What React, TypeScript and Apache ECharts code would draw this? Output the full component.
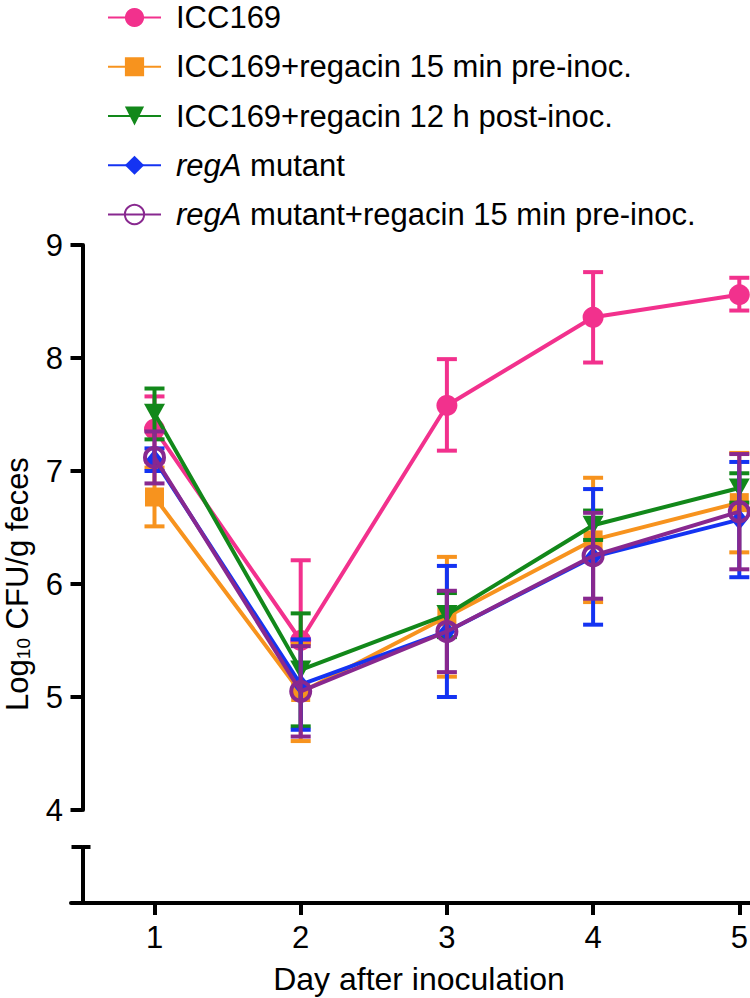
import React, { useEffect, useRef } from "react";
import * as echarts from "echarts";

// ---------- data ----------
const days = [1, 2, 3, 4, 5];
const yTicks = [4, 5, 6, 7, 8, 9];

const seriesNames = [
  "ICC169",
  "ICC169+regacin 15 min pre-inoc.",
  "ICC169+regacin 12 h post-inoc.",
  "regA mutant",
  "regA mutant+regacin 15 min pre-inoc.",
];

const icc169Mean = [7.37, 5.5, 7.58, 8.36, 8.56];
const icc169ErrUp = [0.29, 0.71, 0.41, 0.4, 0.15];
const icc169ErrDown = [0.29, 0.0, 0.4, 0.4, 0.14];

const preInocMean = [6.77, 5.04, 5.71, 6.39, 6.72];
const preInocErrUp = [0.26, 0.43, 0.53, 0.55, 0.44];
const preInocErrDown = [0.26, 0.43, 0.53, 0.55, 0.44];

const postInocMean = [7.51, 5.24, 5.73, 6.52, 6.85];
const postInocErrUp = [0.22, 0.5, 0.19, 0.13, 0.13];
const postInocErrDown = [0.23, 0.5, 0.2, 0.13, 0.13];

const regAMean = [7.1, 5.11, 5.58, 6.24, 6.57];
const regAErrUp = [0.1, 0.4, 0.58, 0.6, 0.51];
const regAErrDown = [0.1, 0.4, 0.58, 0.6, 0.51];

const regAPreMean = [7.12, 5.05, 5.58, 6.25, 6.64];
const regAPreErrUp = [0.23, 0.4, 0.36, 0.38, 0.51];
const regAPreErrDown = [0.23, 0.4, 0.36, 0.38, 0.51];

// ---------- styling ----------
const FONT = "'Liberation Sans', Arial, Helvetica, sans-serif";
const COLORS = ["#F2318D", "#F7931E", "#12881A", "#1433F2", "#88288F"];
const LINE_W = 4;
const AXIS_W = 4;
const CAP_HALF = 10;

const PLOT_LEFT = 82.5;
const AXIS_STUB_LEFT = 71;
const DAY1_X = 154.5;
const DAY_STEP = 146.2;
const CANVAS_W = 750;
const CANVAS_H = 998;
const X_MIN_TOP = 1 - (DAY1_X - PLOT_LEFT) / DAY_STEP;
const X_MIN_BOTTOM = 1 - (DAY1_X - AXIS_STUB_LEFT) / DAY_STEP;
const X_MAX = 1 + (CANVAS_W - DAY1_X) / DAY_STEP;

const groups = [
  { mean: icc169Mean, up: icc169ErrUp, down: icc169ErrDown, symbol: "circle", size: 21 as any, hollow: false },
  { mean: preInocMean, up: preInocErrUp, down: preInocErrDown, symbol: "rect", size: 19 as any, hollow: false },
  { mean: postInocMean, up: postInocErrUp, down: postInocErrDown, symbol: "path://M0,0L20,0L10,18Z", size: [21, 19] as any, hollow: false },
  { mean: regAMean, up: regAErrUp, down: regAErrDown, symbol: "diamond", size: [17, 21] as any, hollow: false },
  { mean: regAPreMean, up: regAPreErrUp, down: regAPreErrDown, symbol: "circle", size: 19 as any, hollow: true },
];

function buildSeries() {
  const out: any[] = [];
  groups.forEach((g, i) => {
    const color = COLORS[i];
    const z = 2 + i;
    out.push({
      type: "custom",
      name: "err-" + i,
      xAxisIndex: 0,
      yAxisIndex: 0,
      z,
      silent: true,
      encode: { x: 0, y: [1, 2] },
      data: days.map((d, k) => [d, g.mean[k] - g.down[k], g.mean[k] + g.up[k], g.mean[k]]),
      renderItem: (params: any, api: any) => {
        const x = api.value(0);
        const lo = api.coord([x, api.value(1)]);
        const hi = api.coord([x, api.value(2)]);
        const style = { stroke: color, lineWidth: LINE_W, fill: null };
        const children: any[] = [
          { type: "line", shape: { x1: lo[0], y1: lo[1], x2: hi[0], y2: hi[1] }, style },
          { type: "line", shape: { x1: hi[0] - CAP_HALF, y1: hi[1], x2: hi[0] + CAP_HALF, y2: hi[1] }, style },
        ];
        if (api.value(1) < api.value(3)) {
          children.push({ type: "line", shape: { x1: lo[0] - CAP_HALF, y1: lo[1], x2: lo[0] + CAP_HALF, y2: lo[1] }, style });
        }
        return { type: "group", children };
      },
    });
    out.push({
      type: "line",
      name: seriesNames[i],
      xAxisIndex: 0,
      yAxisIndex: 0,
      z,
      data: days.map((d, k) => [d, g.mean[k]]),
      symbol: g.symbol,
      symbolSize: g.size,
      showAllSymbol: true,
      lineStyle: { color, width: LINE_W },
      itemStyle: g.hollow
        ? { color: "rgba(255,255,255,0)", borderColor: color, borderWidth: LINE_W }
        : { color, borderWidth: 0 },
      emphasis: { disabled: true },
    });
  });
  return out;
}

const axisLineStyle = { color: "#000", width: AXIS_W };

export default function App() {
  const ref = useRef<HTMLDivElement>(null);
  useEffect(() => {
    if (!ref.current) return;
    const chart = echarts.init(ref.current, null, { renderer: "svg" });
    const option: any = {
      animation: false,
      backgroundColor: "#ffffff",
      textStyle: { fontFamily: FONT },
      legend: {
        orient: "vertical",
        left: 107,
        top: 2,
        padding: 0,
        itemGap: 18.25,
        itemWidth: 53,
        itemHeight: 24,
        selectedMode: false,
        data: seriesNames,
        formatter: (name: string) =>
          name.indexOf("regA") === 0 ? "{i|regA}" + name.slice(4) : name,
        textStyle: {
          fontSize: 31,
          color: "#000",
          fontFamily: FONT,
          lineHeight: 30,
          padding: [0, 0, 0, 10],
          rich: {
            i: { fontStyle: "italic", fontSize: 31, fontFamily: FONT, color: "#000", lineHeight: 30 },
          },
        },
      },
      grid: [
        { left: PLOT_LEFT, top: 245, width: CANVAS_W - PLOT_LEFT, height: 565, outerBoundsMode: "none" },
        { left: AXIS_STUB_LEFT, top: 847, width: CANVAS_W - AXIS_STUB_LEFT, height: 56, outerBoundsMode: "none" },
      ],
      xAxis: [
        { gridIndex: 0, type: "value", min: X_MIN_TOP, max: X_MAX, show: false },
        {
          gridIndex: 1,
          type: "value",
          position: "bottom",
          min: X_MIN_BOTTOM,
          max: X_MAX,
          axisLine: { show: true, onZero: false, lineStyle: axisLineStyle },
          axisTick: { show: true, length: 12, lineStyle: axisLineStyle, customValues: days },
          axisLabel: { customValues: days, fontSize: 31, color: "#000", margin: 18.5, fontFamily: FONT },
          splitLine: { show: false },
          name: "Day after inoculation",
          nameLocation: "middle",
          nameGap: 60,
          nameTextStyle: { fontSize: 32, color: "#000", fontFamily: FONT, padding: [0, 0, 0, 17] },
        },
      ],
      yAxis: [
        {
          gridIndex: 0,
          type: "value",
          position: "left",
          min: yTicks[0],
          max: yTicks[yTicks.length - 1],
          interval: 1,
          axisLine: { show: true, onZero: false, lineStyle: axisLineStyle },
          axisTick: { show: true, length: 12, lineStyle: axisLineStyle },
          axisLabel: { fontSize: 31, color: "#000", margin: 19.5, fontFamily: FONT },
          splitLine: { show: false },
        },
        {
          gridIndex: 1,
          type: "value",
          position: "left",
          min: 0,
          max: 1,
          offset: -(PLOT_LEFT - AXIS_STUB_LEFT),
          axisLine: { show: true, onZero: false, lineStyle: axisLineStyle },
          axisTick: { show: true, length: 11, lineStyle: axisLineStyle, customValues: [1] },
          axisLabel: { show: false },
          splitLine: { show: false },
        },
        {
          gridIndex: 1,
          type: "value",
          position: "left",
          min: 0,
          max: 1,
          offset: -(PLOT_LEFT - AXIS_STUB_LEFT),
          axisLine: { show: false },
          axisTick: { show: true, inside: true, length: 8, lineStyle: axisLineStyle, customValues: [1] },
          axisLabel: { show: false },
          splitLine: { show: false },
        },
      ],
      graphic: [
        {
          type: "text",
          x: 17,
          y: 584,
          rotation: Math.PI / 2,
          silent: true,
          style: {
            text: "Log{sub|10} CFU/g feces",
            fontSize: 31,
            fontFamily: FONT,
            fill: "#000",
            align: "center",
            verticalAlign: "middle",
            rich: {
              sub: { fontSize: 19, lineHeight: 12, verticalAlign: "bottom", fontFamily: FONT, fill: "#000" },
            },
          },
        },
      ],
      series: buildSeries(),
    };
    chart.setOption(option);
    return () => chart.dispose();
  }, []);
  return (
    <div
      ref={ref}
      style={{ position: "absolute", left: 0, top: 0, width: CANVAS_W, height: CANVAS_H, background: "#fff" }}
    />
  );
}
